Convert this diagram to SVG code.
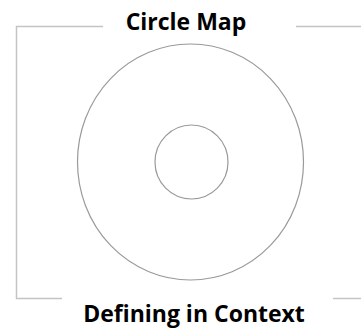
<svg xmlns="http://www.w3.org/2000/svg" width="361" height="328" viewBox="0 0 361 328">
<style>
.frame{fill:none;stroke:#c4c4c4;stroke-width:1.5}
.ring{fill:none;stroke:#9a9a9a;stroke-width:1.2}
.title{font-family:"Open Sans","Noto Sans",sans-serif;font-weight:bold;font-size:23px;fill:#000;text-anchor:middle}
</style>
<rect width="361" height="328" fill="#fff"/>
<g id="connectors">
<polyline class="frame" points="103,26.5 16.5,26.5 16.5,298.5 62,298.5"/>
<line class="frame" x1="296" y1="26.5" x2="361" y2="26.5"/>
<line class="frame" x1="333" y1="298.5" x2="361" y2="298.5"/>
</g>
<g id="outer">
<ellipse class="ring" cx="190.5" cy="162" rx="113" ry="118"/>
</g>
<g id="inner">
<ellipse class="ring" cx="191.5" cy="162" rx="36.5" ry="37"/>
</g>
<g id="title">
<text class="title" x="186" y="29.5">Circle Map</text>
</g>
<g id="caption">
<text class="title" x="194" y="322">Defining in Context</text>
</g>
</svg>
